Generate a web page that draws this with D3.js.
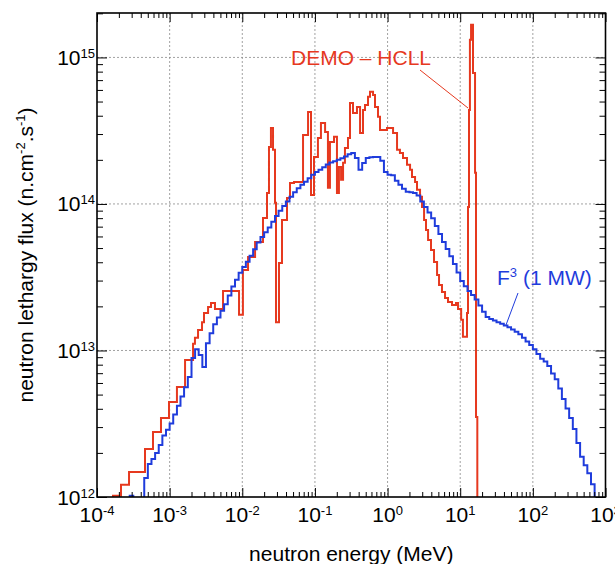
<!DOCTYPE html>
<html>
<head>
<meta charset="utf-8">
<script src="https://cdnjs.cloudflare.com/ajax/libs/d3/7.8.5/d3.min.js"></script>
<style>
  body { margin: 0; background: #fff; }
  svg { display: block; }
  text { font-family: "Liberation Sans", Arial, Helvetica, sans-serif; }
</style>
</head>
<body>
<div id="chart"></div>
<script>
// DEMO - HCLL spectrum: bin edges (MeV) and lethargy flux per bin (n.cm-2.s-1)
const demoEdges = [
  1.66e-4, 2.14e-4, 2.76e-4, 4.58e-4, 5.90e-4, 7.60e-4, 9.80e-4, 1.26e-3, 1.63e-3, 2.10e-3,
  2.23e-3, 2.46e-3, 2.79e-3, 2.97e-3, 3.38e-3, 3.71e-3, 4.21e-3, 5.43e-3, 9.02e-3, 1.02e-2,
  1.20e-2, 1.50e-2, 1.93e-2, 2.19e-2, 2.33e-2, 2.48e-2, 2.65e-2, 2.82e-2, 2.91e-2, 3.20e-2,
  3.52e-2, 4.13e-2, 4.54e-2, 5.15e-2, 6.86e-2, 8.04e-2, 8.83e-2, 9.71e-2, 0.110, 0.121,
  0.138, 0.151, 0.161, 0.183, 0.201, 0.214, 0.229, 0.244, 0.259, 0.285,
  0.304, 0.334, 0.379, 0.418, 0.459, 0.489, 0.538, 0.573, 0.631, 0.671,
  0.738, 0.787, 0.982, 1.19, 1.35, 1.48, 1.63, 1.85, 2.04, 2.17,
  2.39, 2.54, 2.80, 2.98, 3.18, 3.38, 3.61, 3.96, 4.36, 4.80,
  5.11, 5.61, 6.18, 6.79, 7.71, 8.75, 9.33, 10.3, 10.9, 12.4,
  12.8, 13.2, 13.6, 14.1, 15.0, 16.0, 16.5, 17.2
];
const demoFlux = [
  1.02e12, 1.21e12, 1.48e12, 2.13e12, 2.78e12, 3.46e12, 4.45e12, 5.64e12, 8.61e12, 1.11e13,
  1.22e13, 1.38e13, 1.56e13, 1.80e13, 1.98e13, 2.11e13, 1.92e13, 2.55e13, 1.75e13, 3.54e13,
  4.35e13, 5.50e13, 8.02e13, 1.19e14, 2.45e14, 3.30e14, 2.34e14, 1.02e14, 1.56e13, 3.96e13,
  7.78e13, 1.10e14, 1.39e14, 1.41e14, 2.96e14, 4.25e14, 1.15e14, 2.09e14, 2.82e14, 3.57e14,
  3.10e14, 1.29e14, 2.65e14, 2.87e14, 1.19e14, 1.79e14, 1.46e14, 1.91e14, 2.41e14, 2.82e14,
  4.89e14, 4.18e14, 4.59e14, 3.05e14, 4.38e14, 4.74e14, 5.38e14, 5.82e14, 5.55e14, 4.59e14,
  3.93e14, 3.20e14, 3.30e14, 3.05e14, 2.34e14, 2.23e14, 2.06e14, 1.85e14, 1.71e14, 1.53e14,
  1.41e14, 1.25e14, 1.12e14, 9.54e13, 7.78e13, 6.65e13, 5.68e13, 4.85e13, 4.02e13, 3.28e13,
  2.80e13, 2.51e13, 2.28e13, 2.14e13, 2.04e13, 2.11e13, 1.92e13, 1.62e13, 1.24e13, 1.80e13,
  9.54e13, 4.38e14, 1.32e15, 1.67e15, 7.84e14, 1.63e14, 3.52e12
];

// F3 (1 MW) spectrum: bin edges (MeV) and lethargy flux per bin
const f3Edges = [
  2.82e-4, 3.16e-4, 3.55e-4, 3.98e-4, 4.47e-4, 5.01e-4, 5.62e-4, 6.31e-4, 7.08e-4, 7.94e-4, 8.91e-4,
  1.00e-3, 1.12e-3, 1.26e-3, 1.41e-3, 1.58e-3, 1.78e-3, 2.00e-3, 2.24e-3, 2.51e-3, 2.82e-3,
  3.16e-3, 3.55e-3, 3.98e-3, 4.47e-3, 5.01e-3, 5.62e-3, 6.31e-3, 7.08e-3, 7.94e-3, 8.91e-3,
  1.00e-2, 1.12e-2, 1.26e-2, 1.41e-2, 1.58e-2, 1.78e-2, 2.00e-2, 2.24e-2, 2.51e-2, 2.82e-2,
  3.16e-2, 3.55e-2, 3.98e-2, 4.47e-2, 5.01e-2, 5.62e-2, 6.31e-2, 7.08e-2, 7.94e-2, 8.91e-2,
  0.100, 0.112, 0.126, 0.141, 0.158, 0.178, 0.200, 0.224, 0.251, 0.282,
  0.316, 0.355, 0.398, 0.447, 0.501, 0.562, 0.631, 0.708, 0.794, 0.891,
  1.00, 1.12, 1.26, 1.41, 1.58, 1.78, 2.00, 2.24, 2.51, 2.82,
  3.16, 3.55, 3.98, 4.47, 5.01, 5.62, 6.31, 7.08, 7.94, 8.91,
  10.0, 11.2, 12.6, 14.1, 15.8, 17.8, 20.0, 22.4, 25.1, 28.2,
  31.6, 35.5, 39.8, 44.7, 50.1, 56.2, 63.1, 70.8, 79.4, 89.1,
  100, 112, 126, 141, 158, 178, 200, 224, 251, 282,
  316, 355, 398, 447, 501, 562, 631, 708, 794
];
const f3Flux = [
  1.02e12, 8.0e11, 8.0e11, 8.0e11, 1.35e12, 1.68e12, 1.82e12, 2.00e12, 2.26e12, 2.63e12, 2.88e12,
  3.18e12, 3.65e12, 4.20e12, 4.85e12, 5.62e12, 6.60e12, 8.90e12, 1.02e13, 9.30e12, 7.70e12,
  1.12e13, 1.31e13, 1.51e13, 1.68e13, 1.87e13, 2.07e13, 2.37e13, 2.73e13, 3.04e13, 3.39e13,
  3.72e13, 4.03e13, 4.43e13, 4.91e13, 5.46e13, 5.96e13, 6.41e13, 6.90e13, 7.55e13, 8.27e13,
  9.00e13, 9.70e13, 1.04e14, 1.12e14, 1.20e14, 1.28e14, 1.35e14, 1.42e14, 1.50e14, 1.58e14,
  1.65e14, 1.71e14, 1.78e14, 1.86e14, 1.92e14, 1.96e14, 2.00e14, 2.05e14, 2.11e14, 2.18e14,
  2.23e14, 2.06e14, 1.71e14, 1.90e14, 2.06e14, 2.08e14, 2.09e14, 2.09e14, 1.97e14, 1.65e14,
  1.58e14, 1.57e14, 1.44e14, 1.35e14, 1.27e14, 1.21e14, 1.20e14, 1.19e14, 1.14e14, 1.04e14,
  9.55e13, 8.74e13, 8.00e13, 7.07e13, 6.24e13, 5.50e13, 4.93e13, 4.39e13, 3.89e13, 3.41e13,
  2.98e13, 2.74e13, 2.55e13, 2.39e13, 2.23e13, 2.03e13, 1.84e13, 1.69e13, 1.64e13, 1.60e13,
  1.56e13, 1.52e13, 1.48e13, 1.44e13, 1.39e13, 1.34e13, 1.29e13, 1.22e13, 1.15e13, 1.09e13,
  1.02e13, 9.46e12, 8.79e12, 8.40e12, 7.83e12, 6.97e12, 6.36e12, 5.50e12, 4.67e12, 4.01e12,
  3.46e12, 2.91e12, 2.34e12, 1.88e12, 1.65e12, 1.45e12, 1.22e12, 8.0e11
];

// tick decades and their exponent labels
const xDecades = [1e-4, 1e-3, 1e-2, 1e-1, 1e0, 1e1, 1e2, 1e3];
const xExp = ["-4", "-3", "-2", "-1", "0", "1", "2", "3"];
const yDecades = [1e12, 1e13, 1e14, 1e15];
const yExp = ["12", "13", "14", "15"];

const width = 615;
const height = 564;
const plotL = 97, plotR = 605.5, plotT = 13, plotB = 497;
const red = "#e6391f";
const blue = "#1f3cdc";

const x = d3.scaleLog().domain([1e-4, 1e3]).range([plotL, plotR]);
const y = d3.scaleLog().domain([1e12, 2.01e15]).range([plotB, plotT]);

const svg = d3.select("#chart")
    .append("svg")
    .attr("width", width)
    .attr("height", height);

svg.append("clipPath").attr("id", "plot")
    .append("rect")
    .attr("x", plotL).attr("y", plotT)
    .attr("width", plotR - plotL).attr("height", plotB - plotT);

// minor tick positions (2..9 inside each decade)
const xMinor = [];
xDecades.slice(0, -1).forEach(d => { for (let m = 2; m <= 9; m++) xMinor.push(d * m); });
const yMinor = [];
yDecades.forEach(d => { for (let m = 2; m <= 9; m++) if (d * m <= 2.01e15) yMinor.push(d * m); });

// dotted grid at inner decades
svg.append("g")
    .selectAll("line")
    .data(xDecades.slice(1, -1))
    .enter()
    .append("line")
    .attr("x1", d => x(d)).attr("x2", d => x(d))
    .attr("y1", plotT).attr("y2", plotB)
    .attr("stroke", "#8a8a8a").attr("stroke-width", 0.8)
    .attr("stroke-dasharray", "2,2");

svg.append("g")
    .selectAll("line")
    .data(yDecades.slice(1))
    .enter()
    .append("line")
    .attr("x1", plotL).attr("x2", plotR)
    .attr("y1", d => y(d)).attr("y2", d => y(d))
    .attr("stroke", "#8a8a8a").attr("stroke-width", 0.8)
    .attr("stroke-dasharray", "2,2");

// histogram drawn as steps
function stepPath(edges, vals) {
    const floor = 1e11;
    const pts = [[edges[0], floor]];
    vals.forEach((v, i) => {
        pts.push([edges[i], v]);
        pts.push([edges[i + 1], v]);
    });
    pts.push([edges[edges.length - 1], floor]);
    return d3.line().x(d => x(d[0])).y(d => y(d[1]))(pts);
}

const curves = svg.append("g").attr("clip-path", "url(#plot)");

curves.append("path")
    .attr("d", stepPath(demoEdges, demoFlux))
    .attr("fill", "none")
    .attr("stroke", red)
    .attr("stroke-width", 2)
    .attr("stroke-linejoin", "miter");

curves.append("path")
    .attr("d", stepPath(f3Edges, f3Flux))
    .attr("fill", "none")
    .attr("stroke", blue)
    .attr("stroke-width", 2)
    .attr("stroke-linejoin", "miter");

// inward ticks on all four sides
function ticks(axis, tr, values, size) {
    const g = svg.append("g")
        .attr("transform", tr)
        .call(axis.tickValues(values).tickSize(size).tickFormat(""));
    g.select(".domain").remove();
    g.selectAll("line").attr("stroke", "#000").attr("stroke-width", 1);
}
ticks(d3.axisBottom(x), `translate(0,${plotB})`, xDecades, -9);
ticks(d3.axisBottom(x), `translate(0,${plotB})`, xMinor, -5);
ticks(d3.axisTop(x), `translate(0,${plotT})`, xDecades, -9);
ticks(d3.axisTop(x), `translate(0,${plotT})`, xMinor, -5);
ticks(d3.axisLeft(y), `translate(${plotL},0)`, yDecades, -10);
ticks(d3.axisLeft(y), `translate(${plotL},0)`, yMinor, -6);
ticks(d3.axisRight(y), `translate(${plotR},0)`, yDecades, -10);
ticks(d3.axisRight(y), `translate(${plotR},0)`, yMinor, -6);

// frame
svg.append("rect")
    .attr("x", plotL).attr("y", plotT)
    .attr("width", plotR - plotL).attr("height", plotB - plotT)
    .attr("fill", "none")
    .attr("stroke", "#000")
    .attr("stroke-width", 1.6);

// tick labels: 10 with superscript exponent
const xl = svg.append("g")
    .selectAll("text")
    .data(xDecades)
    .enter()
    .append("text")
    .attr("x", d => x(d))
    .attr("y", 522)
    .attr("text-anchor", "middle")
    .attr("font-size", 21);
xl.append("tspan").text("10");
xl.append("tspan").attr("dy", -7).attr("font-size", 13).text((d, i) => xExp[i]);

const yl = svg.append("g")
    .selectAll("text")
    .data(yDecades)
    .enter()
    .append("text")
    .attr("x", 95)
    .attr("y", d => y(d) + 7.5)
    .attr("text-anchor", "end")
    .attr("font-size", 21);
yl.append("tspan").text("10");
yl.append("tspan").attr("dy", -7).attr("font-size", 13).text((d, i) => yExp[i]);

// axis titles
svg.append("text")
    .attr("x", (plotL + plotR) / 2)
    .attr("y", 561)
    .attr("text-anchor", "middle")
    .attr("font-size", 21)
    .text("neutron energy (MeV)");

const yt = svg.append("text")
    .attr("transform", "translate(33,255) rotate(-90)")
    .attr("text-anchor", "middle")
    .attr("font-size", 21);
yt.append("tspan").text("neutron lethargy flux (n.cm");
yt.append("tspan").attr("dy", -8).attr("font-size", 13).text("-2");
yt.append("tspan").attr("dy", 8).text(".s");
yt.append("tspan").attr("dy", -8).attr("font-size", 13).text("-1");
yt.append("tspan").attr("dy", 8).text(")");

// series labels with leader lines
svg.append("text")
    .attr("x", 291).attr("y", 65)
    .attr("font-size", 21)
    .attr("fill", red)
    .text("DEMO \u2013 HCLL");
svg.append("line")
    .attr("x1", 420).attr("y1", 70).attr("x2", 468).attr("y2", 108)
    .attr("stroke", red).attr("stroke-width", 1);

const fl = svg.append("text")
    .attr("x", 497).attr("y", 285)
    .attr("font-size", 21)
    .attr("fill", blue);
fl.append("tspan").text("F");
fl.append("tspan").attr("dy", -8).attr("font-size", 13).text("3");
fl.append("tspan").attr("dy", 8).text(" (1 MW)");
svg.append("line")
    .attr("x1", 518).attr("y1", 293).attr("x2", 506).attr("y2", 325)
    .attr("stroke", blue).attr("stroke-width", 1);
</script>
</body>
</html>
